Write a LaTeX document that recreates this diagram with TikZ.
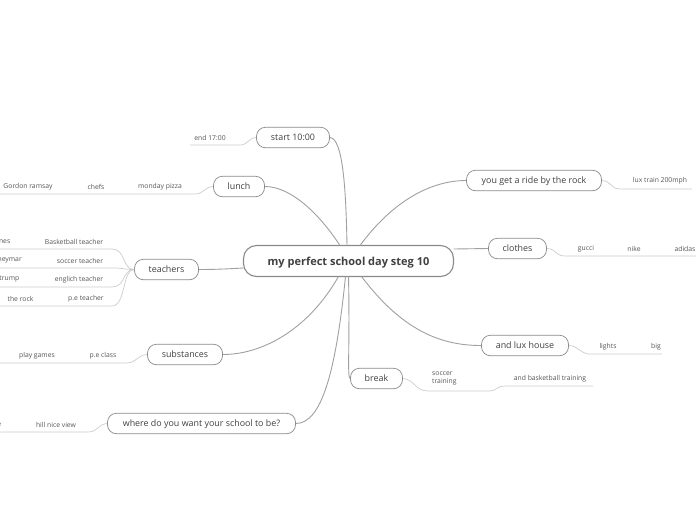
\documentclass[tikz,border=0pt]{standalone}
\usepackage{fontspec}
\setmainfont{Open Sans}
\usetikzlibrary{positioning, calc}
\definecolor{textgray}{HTML}{404040}
\definecolor{subgray}{HTML}{555555}
\definecolor{nodegray}{HTML}{8A8A8A}
\definecolor{linegray}{HTML}{A0A0A0}
\definecolor{ulgray}{HTML}{CCCCCC}

\begin{document}
\begin{tikzpicture}[x=1pt, y=-1pt,
        rootbox/.style={draw=nodegray, line width=1.1pt, rounded corners=13pt, minimum height=31pt, inner sep=2pt, text depth=0pt, text=textgray, font=\fontsize{11}{12}\selectfont\bfseries},
        topic/.style={draw=nodegray, line width=0.7pt, rounded corners=9pt, minimum height=20.5pt, inner sep=2pt, text depth=0pt, text=textgray, font=\fontsize{8.9}{10}\selectfont},
        sub/.style={text=subgray, inner sep=1pt, align=left, font=\fontsize{6.8}{8.6}\selectfont},
        branch/.style={draw=linegray, line width=0.9pt},
        uline/.style={draw=ulgray, line width=0.7pt}
    ]
        \useasboundingbox (0,0) rectangle (696,520);

        % main topics
        \node[rootbox, minimum width=210pt] (root) at (348.5,261) {my perfect school day steg 10};
        \node[topic, minimum width=73pt] (start) at (293,137.5) {start 10:00};
        \node[topic, minimum width=51pt] (lunch) at (239,186.5) {lunch};
        \node[topic, minimum width=64pt] (teachers) at (166.5,269.5) {teachers};
        \node[topic, minimum width=75pt] (subst) at (185,354.5) {substances};
        \node[topic, minimum width=188pt] (where) at (201.5,423.5) {where do you want your school to be?};
        \node[topic, minimum width=52pt] (break) at (376.5,378.5) {break};
        \node[topic, minimum width=87pt] (house) at (525,345.5) {and lux house};
        \node[topic, minimum width=58pt] (clothes) at (517.5,248.5) {clothes};
        \node[topic, minimum width=135pt] (ride) at (534,180.5) {you get a ride by the rock};

        \coordinate (rtop) at (347,245.5);
        \coordinate (rbot) at (348.5,276.5);
        \coordinate (rleft) at (243.5,268);
        \coordinate (rright) at (453.5,249);

        \draw[branch] (rtop) .. controls (346,190) and (343,138) .. (start.east);
        \draw[branch] ($(rtop)+(-7,0)$) .. controls (318,212) and (290,186.5) .. (lunch.east);
        \draw[branch] (rleft) .. controls (225,269) and (215,269.5) .. (teachers.east);
        \draw[branch] ($(rtop)+(13,0)$) .. controls (392,202) and (430,180.5) .. (ride.west);
        \draw[branch] (rright) -- (clothes.west);
        \draw[branch] ($(rbot)+(-10,0)$) .. controls (308,330) and (262,354.5) .. (subst.east);
        \draw[branch] ($(rbot)+(-3,0)$) .. controls (336,370) and (322,423.5) .. (where.east);
        \draw[branch] (rbot) .. controls (350,345) and (347,378.5) .. (break.west);
        \draw[branch] ($(rbot)+(13,0)$) .. controls (402,330) and (440,345.5) .. (house.west);

        % sub topics, right side
        \node[sub] (train) at (660,181) {lux train 200mph};
        \draw[uline] (ride.east) .. controls (612,181) and (610,189) .. (620,189) -- (692,189);

        \node[sub] (gucci) at (586,248.5) {gucci};
        \node[sub] (nike) at (634,248.5) {nike};
        \node[sub] (adidas) at (685,248.5) {adidas};
        \draw[uline] (clothes.east) .. controls (557,249) and (555,256) .. (565,256) -- (696,256);

        \node[sub] (lights) at (608,346.5) {lights};
        \node[sub] (big) at (656,346.5) {big};
        \draw[uline] (house.east) .. controls (579,346) and (580,354) .. (590,354) -- (662,354);

        \node[sub, anchor=west] (soccer) at (431,378.5) {soccer\\training};
        \node[sub] (basket) at (550,378.5) {and basketball training};
        \draw[uline] (break.east) .. controls (414,379) and (415,391) .. (428,391) -- (490,391)
            .. controls (496,391) and (497,386) .. (505,386) -- (593,386);

        % sub topics, left side
        \node[sub] (end) at (210,137.5) {end 17:00};
        \draw[uline] (start.west) .. controls (248,138) and (248,145) .. (240,145) -- (190,145);

        \node[sub] (pizza) at (160,186.5) {monday pizza};
        \node[sub] (chefs) at (96,186.5) {chefs};
        \node[sub] (gordon) at (28,186.5) {Gordon ramsay};
        \draw[uline] (lunch.west) .. controls (204,187) and (204,194) .. (195,194) -- (0,194);

        \node[sub] (tbasket) at (74,241.5) {Basketball teacher};
        \node[sub, anchor=east] (nes) at (11.5,241.5) {nes};
        \node[sub] (tsoccer) at (80,260.5) {soccer teacher};
        \node[sub, anchor=east] (neymar) at (23,260.5) {neymar};
        \node[sub] (tenglich) at (79,279.5) {englich teacher};
        \node[sub, anchor=east] (trump) at (20.5,279.5) {trump};
        \node[sub] (tpe) at (86,298.5) {p.e teacher};
        \node[sub] (rock) at (20.5,298.5) {the rock};
        \foreach \yy in {249,268,287,306}
            \draw[uline] (teachers.west) .. controls (122,269.5) and (126,\yy) .. (112,\yy) -- (0,\yy);

        \node[sub] (peclass) at (103,355.5) {p.e class};
        \node[sub] (games) at (37,355.5) {play games};
        \draw[uline] (subst.west) .. controls (137,355) and (137,363) .. (126,363) -- (0,363);

        \node[sub] (view) at (56,424.5) {hill nice view};
        \node[sub, anchor=east] (evw) at (2.5,424.5) {e};
        \draw[uline] (where.west) .. controls (98,424) and (98,432) .. (88,432) -- (0,432);
    \end{tikzpicture}
\end{document}
